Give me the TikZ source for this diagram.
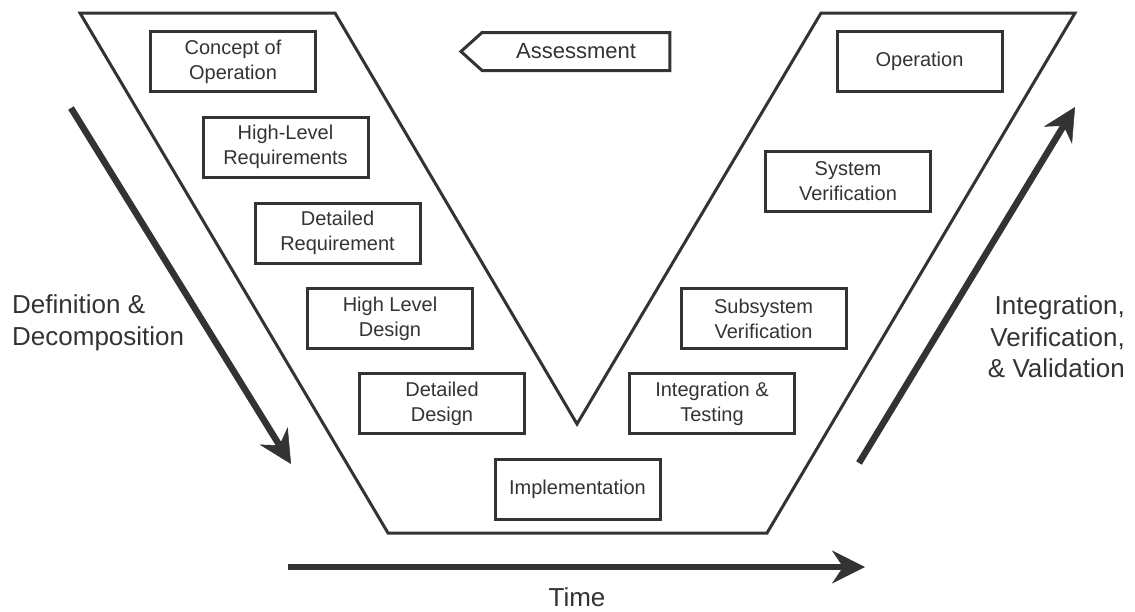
\documentclass[tikz,border=0pt]{standalone}
\usepackage{fontspec}
\setmainfont{Liberation Sans}
\usetikzlibrary{arrows.meta,shapes.symbols}
\definecolor{ink}{HTML}{333333}
\begin{document}
\begin{tikzpicture}[x=1pt,y=-1pt,
  box/.style={draw=ink, line width=3pt, minimum width=165pt, minimum height=60pt, inner sep=0pt, align=center, text=ink, font=\fontsize{20}{25}\selectfont},
  vline/.style={draw=ink, line width=3pt},
  bigarrow/.style={draw=ink, line width=6.5pt, -{Stealth[length=33pt,width=33pt,inset=11pt,line width=0.5pt]}},
  side/.style={text=ink, font=\fontsize{26}{31.5}\selectfont, inner sep=0pt}]
\useasboundingbox (0,0) rectangle (1135,611);
% V outline
\draw[vline] (80,13) -- (335,13) -- (577,424) -- (821,13) -- (1075,13) -- (767,533) -- (388,533) -- cycle;
% boxes
\node[box] (conc) at (233,61.5) {Concept of\\Operation};
\node[box] (hlr) at (285.5,147) {High-Level\\Requirements};
\node[box] (dreq) at (337.5,233) {Detailed\\Requirement};
\node[box] (hld) at (390,318.5) {High Level\\Design};
\node[box] (dd) at (442,403.5) {Detailed\\Design};
\node[box] (impl) at (577.5,489) {Implementation};
\node[box] (intt) at (712,403.5) {Integration \&\\Testing};
\node[box] (subv) at (763.5,318.5) {Subsystem\\Verification};
\node[box] (sysv) at (848,181) {System\\Verification};
\node[box] (oper) at (919.5,61) {Operation};
% assessment
\node[draw=ink, line width=3pt, signal, signal to=west, signal pointer angle=84, minimum width=209pt, minimum height=38pt, inner sep=0pt, text=ink, font=\fontsize{22}{26}\selectfont] (assess) at (576,51.5) {Assessment};
% side labels
\node[side, anchor=west, align=left] (defn) at (12,323) {Definition \&\\Decomposition};
\node[side, anchor=east, align=right] (ivv) at (1125,337) {Integration,\\Verification,\\\& Validation};
\node[side] (time) at (577,597) {Time};
% arrows
\coordinate (dA) at (71,108);
\coordinate (dB) at (291,464);
\coordinate (uA) at (859,463);
\coordinate (uB) at (1075,107);
\coordinate (tA) at (288,567);
\coordinate (tB) at (865,567);
\draw[bigarrow] (dA) -- (dB);
\draw[bigarrow] (uA) -- (uB);
\draw[bigarrow] (tA) -- (tB);
\end{tikzpicture}
\end{document}
